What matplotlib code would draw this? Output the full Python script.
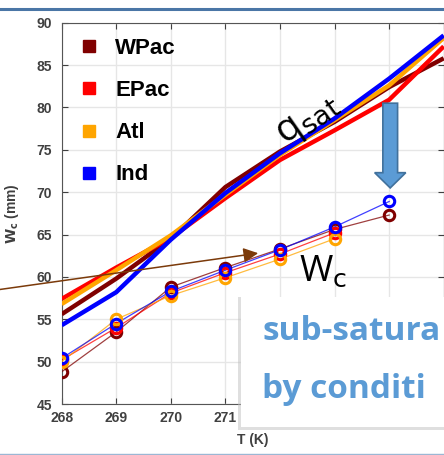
import numpy as np
import matplotlib
matplotlib.use('Agg')
import matplotlib.pyplot as plt
from matplotlib.patches import Rectangle, FancyArrow
from matplotlib.lines import Line2D

plt.rcParams['font.family'] = ['Liberation Sans', 'DejaVu Sans']

temps = [268, 269, 270, 271, 272, 273, 274, 275]
tick_labels = ['268', '269', '270', '271', '', '', '', '']  # rest hidden under the box
regions = ['WPac', 'EPac', 'Atl', 'Ind']
colors = ['#800000', '#ff0000', '#ffa500', '#0000ff']

# saturation water path (thick lines)
qsat_wpac = [55.6, 59.8, 64.5, 70.6, 74.8, 78.3, 82.4, 85.8]
qsat_epac = [57.4, 61.1, 64.6, 69.3, 73.8, 77.3, 80.9, 87.2]
qsat_atl = [56.8, 60.8, 64.9, 69.7, 74.4, 78.5, 82.6, 88.2]
qsat_ind = [54.3, 58.2, 64.4, 69.9, 74.6, 78.7, 83.4, 88.5]

# binned column water (thin lines with circles)
wc_wpac = [48.8, 53.5, 58.8, 61.1, 63.3, 65.6, 67.3]
wc_epac = [50.2, 54.0, 58.1, 60.5, 62.7, 65.2]
wc_atl = [50.0, 55.0, 57.8, 59.9, 62.1, 64.5]
wc_ind = [50.4, 54.5, 58.3, 60.8, 63.2, 65.9, 68.9]

qsat_all = [qsat_wpac, qsat_epac, qsat_atl, qsat_ind]
wc_all = [wc_wpac, wc_epac, wc_atl, wc_ind]

W, H = 444, 455
fig = plt.figure(figsize=(W / 100, H / 100), dpi=100)
ax = fig.add_axes([61.7 / W, (H - 404) / H, 382 / W, 381.3 / H])

for q, c in zip(qsat_all, colors):
    ax.plot(temps, q, color=c, lw=3.2, solid_capstyle='butt', zorder=3)

for w, c in zip(wc_all, colors):
    ax.plot(temps[:len(w)], w, color=c, lw=0.9, alpha=0.75, zorder=4)
    ax.plot(temps[:len(w)], w, ls='none', marker='o', ms=7.5, mew=2.2,
            mfc='none', mec=c, zorder=5)

ax.set_xlim(268, 275)
ax.set_ylim(45, 90)
ax.set_xticks(temps)
ax.set_xticklabels(tick_labels)
ax.set_yticks(np.arange(45, 91, 5))
ax.grid(True, color='#e6e6e6', lw=1)
ax.set_axisbelow(True)
ax.tick_params(direction='in', length=4, top=True, right=True,
               colors='#404040', labelsize=10)
ax.tick_params(axis='y', pad=7)
ax.tick_params(axis='x', pad=5)
for lab in ax.get_xticklabels() + ax.get_yticklabels():
    lab.set_fontweight('bold')
for sp in ax.spines.values():
    sp.set_color('#555555')
ax.set_xlabel('T (K)', fontsize=10, fontweight='bold', color='#404040',
              labelpad=6)
ax.set_ylabel(r'$\mathbf{W}_\mathbf{c}$ (mm)', fontsize=10,
              fontweight='bold', color='#404040', labelpad=11)

handles = [Line2D([], [], ls='none', marker='s', ms=9, color=c)
           for c in colors]
ax.legend(handles, regions, loc='upper left', frameon=False,
          prop={'size': 16, 'weight': 'bold'}, handlelength=0.8,
          handletextpad=0.8, labelspacing=0.95,
          bbox_to_anchor=(-0.005, 1.012))

# annotations
ax.text(272.5, 78.6, r'q$_{\mathrm{sat}}$', fontsize=28, rotation=35,
        ha='center', va='center', family='Open Sans', zorder=6)
ax.text(272.78, 60.6, r'W$_{\mathrm{c}}$', fontsize=26,
        ha='center', va='center', family='Open Sans', zorder=6)
ax.annotate('', xy=(271.6, 62.8), xytext=(266.85, 58.5),
            arrowprops=dict(arrowstyle='-|>', color='#7b3a0a', lw=1.1,
                            mutation_scale=22, shrinkA=0, shrinkB=0),
            annotation_clip=False, zorder=6)
ax.add_patch(FancyArrow(274.02, 80.5, 0, -10.0, width=0.27,
                        head_width=0.57, head_length=1.8,
                        length_includes_head=True, fc='#5b9bd5',
                        ec='#41719c', lw=1.2, zorder=7, clip_on=False))

# text box overlay
fig.add_artist(Rectangle((238 / W, 1 - 430 / H), 220 / W, 133 / H,
                         transform=fig.transFigure, fc='#c0c0c0',
                         ec='none', alpha=0.5, zorder=10))
fig.add_artist(Rectangle((241 / W, 1 - 427 / H), 220 / W, 130 / H,
                         transform=fig.transFigure, fc='white',
                         ec='none', zorder=11))
fig.text(262 / W, 1 - 331 / H, 'sub-satura', fontsize=24,
         fontweight='bold', color='#5b9bd5', family='Open Sans',
         va='center', zorder=12)
fig.text(262 / W, 1 - 389 / H, 'by conditi', fontsize=24,
         fontweight='bold', color='#5b9bd5', family='Open Sans',
         va='center', zorder=12)

# slide frame lines
fig.add_artist(Line2D([0, 1], [1 - 8.5 / H] * 2, transform=fig.transFigure,
                      color='#4a76a6', lw=2.2, zorder=12))
fig.add_artist(Line2D([0, 1], [1.5 / H] * 2, transform=fig.transFigure,
                      color='#9bb7d4', lw=1, zorder=12))

fig.savefig('out.png', dpi=100)
